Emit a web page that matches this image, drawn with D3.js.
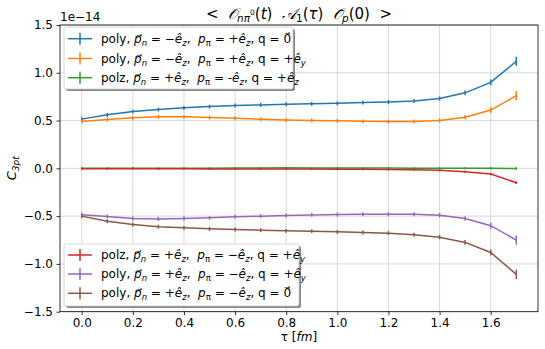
<!DOCTYPE html>
<html>
<head>
<meta charset="utf-8">
<title>C3pt</title>
<style>
  body { margin: 0; background: #fff; }
  svg text { font-family: "DejaVu Sans", sans-serif; fill: #000; }
  .grid line { stroke: #b0b0b0; stroke-width: 0.8; stroke-opacity: 0.6; }
</style>
<script src="https://cdn.jsdelivr.net/npm/d3@7"></script>
</head>
<body>
<div id="chart"></div>
<script>
// tau values in fm
let tau = [0.0, 0.1, 0.2, 0.3, 0.4, 0.5, 0.6, 0.7, 0.8, 0.9, 1.0, 1.1, 1.2, 1.3, 1.4, 1.5, 1.6, 1.7];

// C3pt values, units of 1e-14
let blue   = [0.515, 0.56, 0.594, 0.615, 0.633, 0.646, 0.657, 0.664, 0.670, 0.675, 0.680, 0.688, 0.695, 0.705, 0.73, 0.79, 0.90, 1.12];
let orange = [0.490, 0.51, 0.530, 0.540, 0.540, 0.532, 0.525, 0.515, 0.505, 0.500, 0.497, 0.492, 0.490, 0.490, 0.50, 0.535, 0.61, 0.76];
let green  = [0.000, 0.000, 0.000, 0.000, 0.001, 0.002, 0.003, 0.004, 0.005, 0.004, 0.004, 0.003, 0.003, 0.002, 0.002, 0.001, 0.000, -0.002];
let red    = [-0.004, -0.004, -0.005, -0.005, -0.005, -0.006, -0.006, -0.007, -0.007, -0.008, -0.009, -0.010, -0.012, -0.015, -0.02, -0.035, -0.06, -0.15];
let purple = [-0.485, -0.504, -0.525, -0.530, -0.525, -0.518, -0.507, -0.500, -0.494, -0.487, -0.483, -0.480, -0.480, -0.480, -0.49, -0.525, -0.60, -0.75];
let brown  = [-0.500, -0.553, -0.588, -0.610, -0.622, -0.633, -0.640, -0.647, -0.654, -0.657, -0.664, -0.672, -0.678, -0.695, -0.72, -0.775, -0.88, -1.11];

// error bars (same units)
let errSmall = [0.012, 0.012, 0.012, 0.012, 0.012, 0.012, 0.012, 0.012, 0.012, 0.012, 0.012, 0.012, 0.013, 0.013, 0.014, 0.016, 0.022, 0.04];
let errTiny  = [0.002, 0.002, 0.002, 0.002, 0.002, 0.002, 0.002, 0.002, 0.002, 0.002, 0.002, 0.002, 0.002, 0.002, 0.003, 0.003, 0.004, 0.006];

let xTicks = [0.0, 0.2, 0.4, 0.6, 0.8, 1.0, 1.2, 1.4, 1.6];
let yTicks = [-1.5, -1.0, -0.5, 0.0, 0.5, 1.0, 1.5];

// legend labels: [text, style]  style: n normal, i italic, s italic subscript, u upright subscript
let labels = [
  [["poly, ", "n"], ["p\u20D7", "i"], ["n", "s"], [" = \u2212", "n"], ["\u00EA", "i"], ["z", "s"], [",  ", "n"], ["p", "i"], ["\u03C0", "u"], [" = +", "n"], ["\u00EA", "i"], ["z", "s"], [", q = ", "n"], ["0\u20D7", "n"]],
  [["poly, ", "n"], ["p\u20D7", "i"], ["n", "s"], [" = \u2212", "n"], ["\u00EA", "i"], ["z", "s"], [",  ", "n"], ["p", "i"], ["\u03C0", "u"], [" = +", "n"], ["\u00EA", "i"], ["z", "s"], [", q = +", "n"], ["\u00EA", "i"], ["y", "s"]],
  [["polz, ", "n"], ["p\u20D7", "i"], ["n", "s"], [" = +", "n"], ["\u00EA", "i"], ["z", "s"], [",  ", "n"], ["p", "i"], ["\u03C0", "u"], [" = -", "n"], ["\u00EA", "i"], ["z", "s"], [", q = +", "n"], ["\u00EA", "i"], ["z", "s"]],
  [["polz, ", "n"], ["p\u20D7", "i"], ["n", "s"], [" = +", "n"], ["\u00EA", "i"], ["z", "s"], [",  ", "n"], ["p", "i"], ["\u03C0", "u"], [" = \u2212", "n"], ["\u00EA", "i"], ["z", "s"], [", q = +", "n"], ["\u00EA", "i"], ["y", "s"]],
  [["poly, ", "n"], ["p\u20D7", "i"], ["n", "s"], [" = +", "n"], ["\u00EA", "i"], ["z", "s"], [",  ", "n"], ["p", "i"], ["\u03C0", "u"], [" = \u2212", "n"], ["\u00EA", "i"], ["z", "s"], [", q = +", "n"], ["\u00EA", "i"], ["y", "s"]],
  [["poly, ", "n"], ["p\u20D7", "i"], ["n", "s"], [" = +", "n"], ["\u00EA", "i"], ["z", "s"], [",  ", "n"], ["p", "i"], ["\u03C0", "u"], [" = \u2212", "n"], ["\u00EA", "i"], ["z", "s"], [", q = ", "n"], ["0\u20D7", "n"]]
];

let colors = ["#1f77b4", "#ff7f0e", "#2ca02c", "#d62728", "#9467bd", "#8c564b"];

let series = [
  {vals: blue, err: errSmall},
  {vals: orange, err: errSmall},
  {vals: green, err: errTiny},
  {vals: red, err: errTiny},
  {vals: purple, err: errSmall},
  {vals: brown, err: errSmall}
];

let W = 545, H = 349;
let pL = 60, pR = 538, pT = 25, pB = 311.7;

let svg = d3.select("#chart").append("svg")
  .attr("width", W).attr("height", H);

let x = d3.scaleLinear().domain([-0.085, 1.785]).range([pL, pR]);
let y = d3.scaleLinear().domain([-1.5, 1.5]).range([pB, pT]);

// grid
let grid = svg.append("g").attr("class", "grid");
grid.selectAll(".gx").data(xTicks).enter().append("line")
  .attr("x1", d => x(d)).attr("x2", d => x(d))
  .attr("y1", pT).attr("y2", pB);
grid.selectAll(".gy").data(yTicks).enter().append("line")
  .attr("x1", pL).attr("x2", pR)
  .attr("y1", d => y(d)).attr("y2", d => y(d));

// series
let line = d3.line().x((d, i) => x(tau[i])).y(d => y(d));
series.forEach((s, k) => {
  let g = svg.append("g");
  g.append("path").datum(s.vals)
    .attr("d", line)
    .attr("fill", "none")
    .attr("stroke", colors[k])
    .attr("stroke-width", 1.5);
  g.selectAll("line").data(s.vals).enter().append("line")
    .attr("x1", (d, i) => x(tau[i])).attr("x2", (d, i) => x(tau[i]))
    .attr("y1", (d, i) => y(d - s.err[i]) + 0.8)
    .attr("y2", (d, i) => y(d + s.err[i]) - 0.8)
    .attr("stroke", colors[k])
    .attr("stroke-width", 1.5);
});

// axes
let xAxis = d3.axisBottom(x).tickValues(xTicks).tickFormat(d3.format(".1f")).tickSize(3.5).tickPadding(3.5);
let yAxis = d3.axisLeft(y).tickValues(yTicks).tickFormat(d => d3.format(".1f")(d).replace("-", "\u2212")).tickSize(3.5).tickPadding(3.5);

let gx = svg.append("g").attr("transform", "translate(0," + pB + ")").call(xAxis);
let gy = svg.append("g").attr("transform", "translate(" + pL + ",0)").call(yAxis);
[gx, gy].forEach(g => {
  g.select(".domain").remove();
  g.selectAll("text").style("font-family", "DejaVu Sans").style("font-size", "12px").attr("fill", "#000");
  g.selectAll(".tick line").attr("stroke", "#000").attr("stroke-width", 0.8);
});

svg.append("rect")
  .attr("x", pL).attr("y", pT)
  .attr("width", pR - pL).attr("height", pB - pT)
  .attr("fill", "none").attr("stroke", "#000").attr("stroke-width", 0.8);

// offset text
svg.append("text").attr("x", pL).attr("y", 21)
  .style("font-size", "12px").text("1e\u221214");

// title
let title = svg.append("text").attr("x", (pL + pR) / 2).attr("y", 19)
  .attr("text-anchor", "middle").style("font-size", "15px").style("white-space", "pre");
title.append("tspan").text("<  ");
title.append("tspan").style("font-style", "italic").text("\uD835\uDCAA");
title.append("tspan").attr("dy", 3).style("font-size", "10.5px").style("font-style", "italic").text("n\u03C0");
title.append("tspan").attr("dy", -7).style("font-size", "7.5px").text("0");
title.append("tspan").attr("dy", 4).text("(");
title.append("tspan").style("font-style", "italic").text("t");
title.append("tspan").text(")  ");
title.append("tspan").style("font-style", "italic").text("\uD835\uDC9C");
title.append("tspan").attr("dy", 3).style("font-size", "10.5px").text("1");
title.append("tspan").attr("dy", -3).text("(");
title.append("tspan").style("font-style", "italic").text("\u03C4");
title.append("tspan").text(")  ");
title.append("tspan").style("font-style", "italic").text("\uD835\uDCAA\u0304");
title.append("tspan").attr("dy", 3).style("font-size", "10.5px").style("font-style", "italic").text("p");
title.append("tspan").attr("dy", -3).text("(0)  >");

// y label
let yl = svg.append("text")
  .attr("transform", "translate(16," + ((pT + pB) / 2) + ") rotate(-90)")
  .attr("text-anchor", "middle").style("font-size", "13px");
yl.append("tspan").style("font-style", "italic").text("C");
yl.append("tspan").attr("dy", 3).style("font-size", "9px").style("font-style", "italic").text("3pt");

// x label
let xl = svg.append("text").attr("x", (pL + pR) / 2).attr("y", 341)
  .attr("text-anchor", "middle").style("font-size", "12px");
xl.append("tspan").text("\u03C4 [");
xl.append("tspan").style("font-style", "italic").text("fm");
xl.append("tspan").text("]");

// legends
function writeLabel(t, parts) {
  let shift = 0;
  parts.forEach(p => {
    let sp = t.append("tspan").text(p[0]);
    let target = (p[1] == "s" || p[1] == "u") ? 3 : 0;
    sp.attr("dy", target - shift);
    shift = target;
    if (p[1] == "i" || p[1] == "s") sp.style("font-style", "italic");
    if (p[1] == "s" || p[1] == "u") sp.style("font-size", "8.5px");
  });
}

function legend(idx, bx, by, bw, bh, rowY) {
  let g = svg.append("g");
  g.append("rect").attr("x", bx + 2).attr("y", by + 2).attr("width", bw).attr("height", bh)
    .attr("rx", 2).attr("fill", "#555").attr("fill-opacity", 0.7);
  g.append("rect").attr("x", bx).attr("y", by).attr("width", bw).attr("height", bh)
    .attr("rx", 2).attr("fill", "#fff").attr("stroke", "#ccc").attr("stroke-width", 0.8);
  idx.forEach((k, j) => {
    let cy = rowY[j];
    g.append("line").attr("x1", 68).attr("x2", 92).attr("y1", cy).attr("y2", cy)
      .attr("stroke", colors[k]).attr("stroke-width", 1.5);
    g.append("line").attr("x1", 80).attr("x2", 80).attr("y1", cy - 6).attr("y2", cy + 6)
      .attr("stroke", colors[k]).attr("stroke-width", 1.5);
    let t = g.append("text").attr("x", 101).attr("y", cy + 4)
      .style("font-size", "12px").style("white-space", "pre");
    writeLabel(t, labels[k]);
  });
}

legend([0, 1, 2], 64, 27, 229, 62, [38.7, 58.5, 77.7]);
legend([3, 4, 5], 64, 244, 235, 62, [255, 274, 293.3]);
</script>
</body>
</html>
